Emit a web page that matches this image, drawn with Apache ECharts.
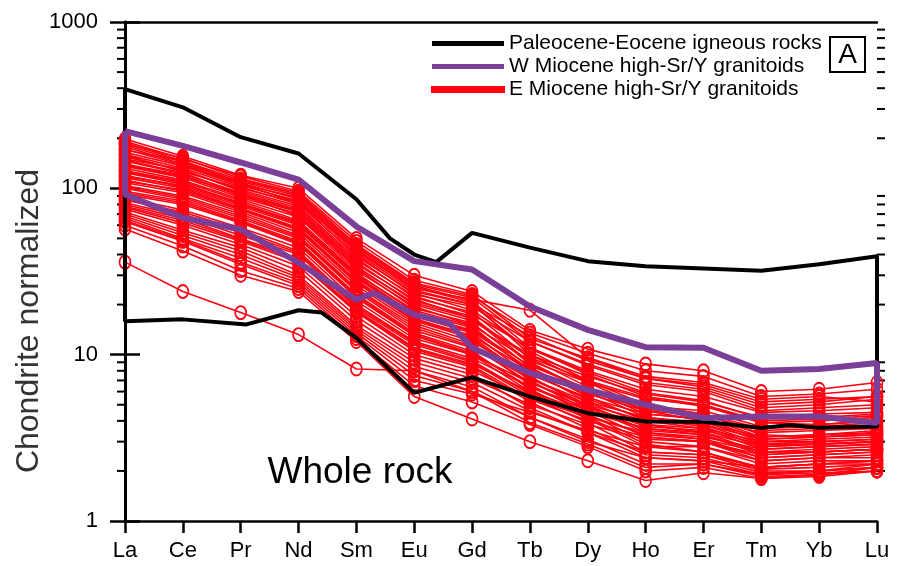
<!DOCTYPE html>
<html><head><meta charset="utf-8">
<script src="https://cdn.jsdelivr.net/npm/echarts@6/dist/echarts.min.js"></script>
<style>html,body{margin:0;padding:0;background:#fff}#c{width:898px;height:566px}</style>
</head><body><div id="c"></div>
<script>
// ---- data ----
const elements = ['La','Ce','Pr','Nd','Sm','Eu','Gd','Tb','Dy','Ho','Er','Tm','Yb','Lu'];
const minorTickValues = [2,3,4,5,6,7,8,9,20,30,40,50,60,70,80,90,200,300,400,500,600,700,800,900];

// Paleocene-Eocene field: [element position, value]
const paleoUpper = [[0,395],[1,307],[2,203],[3,162],[4,86],[4.58,50],[5,40],[5.38,36],[6,54],[7,44],[8,36.5],[9,34],[10,33],[11,32],[12,35],[13,39]];
const paleoLower = [[13,3.7],[12,3.63],[11.5,3.78],[11,3.63],[10,3.95],[9,3.96],[8,4.45],[7,5.6],[6,7.3],[5,5.9],[4,12.6],[3.4,17.9],[3,18.5],[2.1,15.2],[1,16.3],[0,15.9]];

// W Miocene high-Sr/Y granitoids field
const wMioUpper = [[0,221],[1,180],[2,143],[3,113],[4,59],[5,36.5],[6,32.5],[7,19.5],[8,14.1],[9,11.1],[10,11],[11,8],[12,8.2],[13,8.9]];
const wMioLower = [[13,3.88],[12,4.25],[11,4.25],[10,4.16],[9,5],[8,6.15],[7,7.76],[6,11],[5.6,15.5],[5,17.4],[4.3,23.5],[4,21.4],[3,35.7],[2,56.6],[1,66.6],[0,92]];

// E Miocene high-Sr/Y granitoids samples (La ... Lu)
const eMioceneSamples = [
  [198,156,120,100,50,30,24,14,10.8,8.8,8,6,6.2,6.8],
  [192,150,118,96,48,28,23,12.5,9.5,7.2,6.6,5.2,5.4,5.6],
  [188,146,112,92,45,26.5,22,12,8.6,6.6,6,4.6,4.8,5.0],
  [185,152,114,94,46,27,22.5,13.5,10.2,8,7.4,5.6,5.8,6.2],
  [182,144,106,88,43,25.5,20.5,10,6.8,4.8,4.2,3.2,3.3,3.5],
  [178,140,110,90,44,26,21,11,7.6,5.6,5,3.9,3.8,4.0],
  [172,138,106,82,43,24.5,20,13,9.2,7.2,6.4,5,5.2,5.6],
  [170,146,108,86,42,25,21.5,18.5,9.6,7.4,6.8,5.4,5.6,5.2],
  [165,136,104,84,41,24,20,10.5,7,5,4.4,3.3,3.2,3.4],
  [160,132,102,80,40,23,19.5,12,8.8,6.8,6.2,4.8,5.0,5.4],
  [158,126,100,82,39,23.5,18.5,10.8,7.8,5.9,5.3,4.1,4.2,4.4],
  [155,128,98,78,38,22,18,9.5,6.4,4.6,4,3,3,3.1],
  [150,130,96,76,37,22.5,17.5,11,8,6.2,5.6,4.5,4.6,4.8],
  [148,124,92,73,35,21.5,16.5,8.8,6.2,4.4,4.1,3.1,3.2,3.3],
  [146,122,94,74,36,21,17,9,6,4.2,3.8,2.9,2.9,3.0],
  [140,120,90,72,34,20,16,10,7.4,5.8,5.2,4.2,4.4,4.5],
  [138,118,92,68,33.5,20.5,16.5,9.6,7,5.5,4.9,3.9,4.0,4.2],
  [136,116,88,70,33,19,15.5,8.4,5.6,4,3.6,2.7,2.8,2.9],
  [132,112,86,67,32,19.5,15,9.2,6.8,5.4,5,4,4.1,4.3],
  [128,110,84,64,31,18,14.5,8,5.2,3.8,3.4,2.6,2.6,2.7],
  [126,108,80,63,30.5,18.5,14.8,7.8,5.4,4.1,3.7,2.8,2.9,3.0],
  [124,106,82,62,30,17.5,14,8.6,6.2,4.9,4.6,3.7,3.8,4.0],
  [120,102,78,60,29,17,13.5,7.4,4.8,3.4,3.1,2.4,2.5,2.6],
  [118,104,80,61,29.5,17.2,13.8,8.2,6.0,4.7,4.4,3.6,3.7,3.9],
  [116,100,76,58,28,16.5,13,8,5.8,4.6,4.3,3.5,3.6,3.7],
  [112,96,74,56,27,16,12.5,7,4.6,3.2,3,2.3,2.4,2.4],
  [110,98,75,57,27.5,16.2,12.8,7.2,5,3.5,3.3,2.5,2.6,2.7],
  [108,94,72,54,26,15.5,12,7.6,5.5,4.4,4.1,3.4,3.5,3.6],
  [104,90,70,52,25,15,11.5,6.6,4.4,3,2.8,2.2,2.3,2.3],
  [102,88,68,51,24.5,14.5,11.2,6.8,4.9,3.7,3.5,2.9,3.0,3.1],
  [100,86,66,50,24,14,11,7.2,5.2,4.2,3.9,3.2,3.3,3.4],
  [96,84,64,48,23,13.5,10.5,6.2,4.2,2.9,2.6,2.1,2.2,2.2],
  [94,82,63,47,22.5,13.2,10.2,6.4,4.6,3.6,3.3,2.6,2.7,2.8],
  [92,80,62,46,22,13,10,6.8,5,4,3.8,3.1,3.2,3.3],
  [88,74,58,44,21,12.5,10,6,4.1,2.8,2.6,2.05,2.1,2.2],
  [86,70,54,41,19.5,11.8,9.2,5.8,4.3,3.3,3.1,2.6,2.6,2.7],
  [85,72,56,42,20,12,9.5,6.4,4.8,3.8,3.6,3,3.1,3.2],
  [82,68,52,40,19,11.5,9,5.6,3.9,2.6,2.5,2,2.0,2.1],
  [80,66,50,38,18.5,11,8.8,6,4.5,3.6,3.4,2.8,2.9,3.0],
  [78,64,49,37,18.2,10.8,8.6,5.4,4,3.2,3.0,2.4,2.5,2.6],
  [77,62,48,36,18,10.5,8.4,5.2,3.6,2.5,2.4,1.95,2.0,2.1],
  [75,60,46,34,17,10,8,5.5,4.2,3.4,3.2,2.7,2.8,2.9],
  [72,56,44,32,16,9.5,7.6,4.8,3.4,2.4,2.3,1.9,1.95,2.0],
  [70,54,42,30,15,9,7.2,5,3.8,3.1,3,2.5,2.6,2.7],
  [68,52,40,29,14.5,8.5,6.8,4.6,3.4,2.6,2.5,2.1,2.2,2.3],
  [66,50,38,28,14,8,6.4,4.2,3.1,2.2,2.2,1.85,1.9,2.0],
  [64,49,36,27,13.5,7.5,6.0,3.9,2.9,2.1,2.2,1.9,2.0,2.2],
  [63,48,35,26,13,7,5.8,4.5,3.5,2.8,2.8,2.3,2.4,2.5],
  [60,45,32,25,12.5,6.5,5.2,3.8,2.8,2,2.1,1.8,1.85,2.0],
  [57,42,30,24,12,5.6,4.1,3.0,2.3,1.75,1.95,1.8,1.9,2.1],
  [36,24,17.9,13.2,8.2,8,6,4.2,3,2.4,2.3,2.1,2.2,2.3]
];

const names = ['Paleocene-Eocene igneous rocks','W Miocene high-Sr/Y granitoids','E Miocene high-Sr/Y granitoids'];
const colors = ['#000000','#7b3f98','#ff0010'];

// ---- chart ----
const FONT = "'Liberation Sans', Arial, sans-serif";
const chart = echarts.init(document.getElementById('c'), null, {renderer:'canvas'});

const series = [];
eMioceneSamples.forEach(s => {
  series.push({
    type:'line', name:names[2], data:s.map((v,i)=>[i,v]),
    symbol:'circle', symbolSize:[11,13], showSymbol:true,
    lineStyle:{color:colors[2], width:1.6},
    itemStyle:{color:'rgba(0,0,0,0)', borderColor:colors[2], borderWidth:1.8},
    z:2, silent:true, clip:false
  });
});
series.push({
  type:'line', name:names[0], data:paleoUpper.concat(paleoLower, [paleoUpper[0]]),
  symbol:'none', lineStyle:{color:colors[0], width:4}, itemStyle:{color:colors[0]},
  z:3, silent:true, clip:false
});
series.push({
  type:'line', name:names[1], data:wMioUpper.concat(wMioLower, [wMioUpper[0]]),
  symbol:'none', lineStyle:{color:colors[1], width:6}, itemStyle:{color:colors[1]},
  z:4, silent:true, clip:false
});
series.push({
  type:'custom', silent:true, clip:false, z:1,
  data:minorTickValues.map(v=>[0,v]),
  renderItem:(params, api)=>{
    const a = api.coord([0, api.value(1)]);
    const b = api.coord([13, api.value(1)]);
    return {type:'group', children:[
      {type:'line', shape:{x1:a[0]-8, y1:a[1], x2:a[0], y2:a[1]}, style:{stroke:'#000', lineWidth:2}},
      {type:'line', shape:{x1:b[0], y1:b[1], x2:b[0]+8, y2:b[1]}, style:{stroke:'#000', lineWidth:2}}
    ]};
  }
});

const axisLineStyle = {color:'#000', width:2.5};
chart.setOption({
  animation:false,
  backgroundColor:'#fff',
  textStyle:{fontFamily:FONT},
  grid:{left:125, right:21, top:22, bottom:45, containLabel:false},
  legend:{
    orient:'vertical', left:426, top:28, itemWidth:72, itemHeight:5, itemGap:2,
    selectedMode:false,
    textStyle:{fontSize:21, color:'#000', fontFamily:FONT},
    data:names.map((n,i)=>({name:n, icon:'rect', itemStyle:{color:colors[i]}}))
  },
  xAxis:[
    {type:'value', min:0, max:13, interval:1, position:'bottom',
     axisLine:{show:true, lineStyle:axisLineStyle},
     axisTick:{show:true, length:12, lineStyle:axisLineStyle},
     axisLabel:{formatter:v=>elements[v], fontSize:22, color:'#000', margin:19, fontFamily:FONT},
     splitLine:{show:false}},
    {type:'value', min:0, max:13, interval:1, position:'top',
     axisLine:{show:true, lineStyle:axisLineStyle},
     axisTick:{show:false}, axisLabel:{show:false}, splitLine:{show:false}}
  ],
  yAxis:[
    {type:'log', logBase:10, min:1, max:1000, splitNumber:3, position:'left',
     axisLine:{show:true, lineStyle:{color:'#000', width:3}},
     axisTick:{show:true, length:15, lineStyle:axisLineStyle},
     axisLabel:{fontSize:22, color:'#000', margin:27, fontFamily:FONT, formatter:v=>String(v)},
     splitLine:{show:false}},
    {type:'log', logBase:10, min:1, max:1000, splitNumber:3, position:'right',
     axisLine:{show:true, lineStyle:{color:'#000', width:3}},
     axisTick:{show:true, length:15, lineStyle:axisLineStyle},
     axisLabel:{show:false}, splitLine:{show:false}}
  ],
  graphic:[
    {type:'text', x:29, y:321, rotation:Math.PI/2, silent:true,
     style:{text:'Chondrite normalized', fontSize:32, fontFamily:FONT, fill:'#333', align:'center', verticalAlign:'middle'}},
    {type:'text', x:360, y:473, silent:true,
     style:{text:'Whole rock', fontSize:37, fontFamily:FONT, fill:'#000', align:'center', verticalAlign:'middle'}},
    {type:'rect', silent:true, shape:{x:830, y:37, width:35, height:35},
     style:{fill:'none', stroke:'#000', lineWidth:2}},
    {type:'text', x:847.5, y:55, silent:true,
     style:{text:'A', fontSize:28, fontFamily:FONT, fill:'#000', align:'center', verticalAlign:'middle'}}
  ],
  series:series
});
</script></body></html>
